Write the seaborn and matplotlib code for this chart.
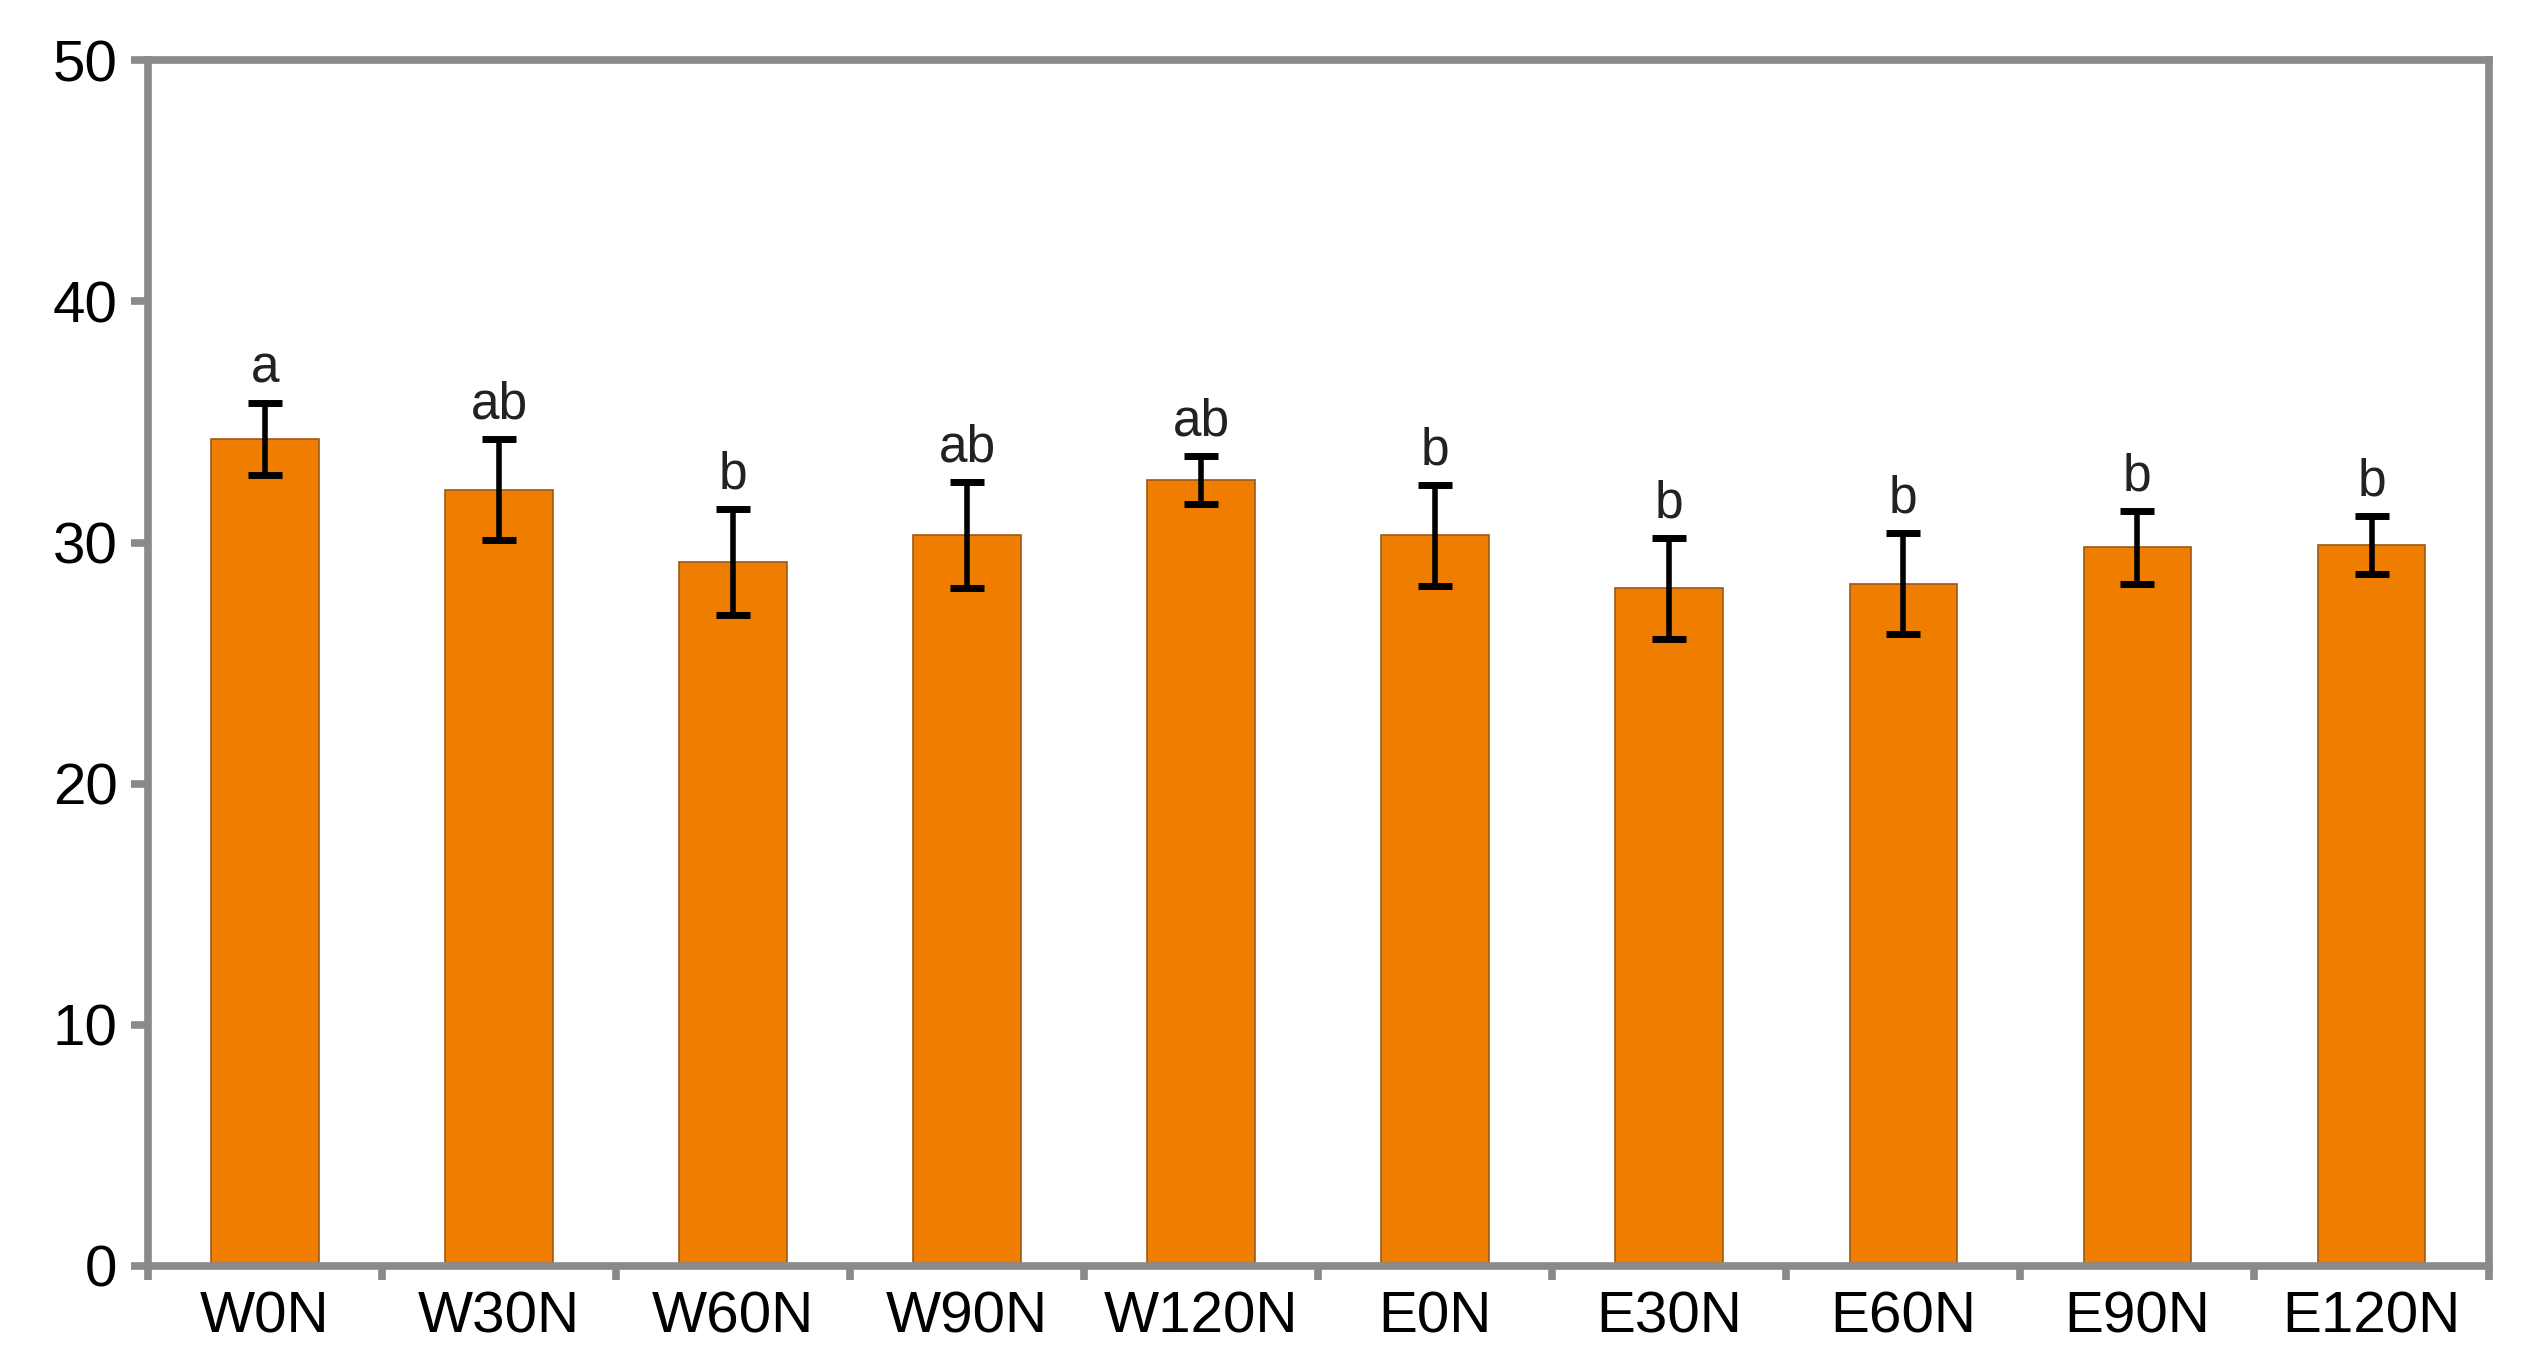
import numpy as np
import pandas as pd
import matplotlib
matplotlib.use("Agg")
import matplotlib.pyplot as plt
import seaborn as sns

categories = ["W0N", "W30N", "W60N", "W90N", "W120N", "E0N", "E30N", "E60N", "E90N", "E120N"]
means = [34.3, 32.2, 29.2, 30.3, 32.6, 30.3, 28.1, 28.3, 29.8, 29.9]
errors = [1.5, 2.1, 2.2, 2.2, 1.0, 2.1, 2.1, 2.1, 1.5, 1.2]
letters = ["a", "ab", "b", "ab", "ab", "b", "b", "b", "b", "b"]
yticks = [0, 10, 20, 30, 40, 50]

sns.set_theme(style="white")
plt.rcParams['font.family'] = ['Liberation Sans', 'DejaVu Sans']

df = pd.DataFrame({"cat": categories, "val": means})

fig = plt.figure(figsize=(25.29, 13.72), dpi=100)
ax = fig.add_axes([0.0585, 0.0773, 0.9255, 0.8787])

sns.barplot(data=df, x="cat", y="val", order=categories, color="#EE7D00",
            saturation=1, width=0.46, edgecolor="#9a5a1a", linewidth=1.2, ax=ax)

x = np.arange(len(categories))
ax.errorbar(x, means, yerr=errors, fmt="none", ecolor="black", elinewidth=4,
            capsize=12, capthick=5, zorder=5)

for xi, m, e, lab in zip(x, means, errors, letters):
    ax.annotate(lab, (xi, m + e), xytext=(0, 7), textcoords="offset points",
                ha="center", va="bottom", fontsize=37, color="#222222")

ax.set_xlim(-0.5, len(categories) - 0.5)
ax.set_ylim(0, 50)
ax.set_yticks(yticks)
ax.set_yticklabels([str(t) for t in yticks])
ax.set_xlabel("")
ax.set_ylabel("")

spine_color = "#8a8a8a"
for s in ax.spines.values():
    s.set_visible(True)
    s.set_color(spine_color)
    s.set_linewidth(5.5)

ax.tick_params(axis="y", which="major", direction="out", length=12, width=5.5,
               color=spine_color, labelsize=42, pad=10, left=True, labelcolor="black")
ax.tick_params(axis="x", which="major", length=0, labelsize=42, pad=18, labelcolor="black")
ax.set_xticks(np.arange(-0.5, len(categories), 1.0), minor=True)
ax.tick_params(axis="x", which="minor", direction="out", length=10, width=5.5,
               color=spine_color, bottom=True)

fig.savefig("out.png", dpi=100, facecolor="white")
